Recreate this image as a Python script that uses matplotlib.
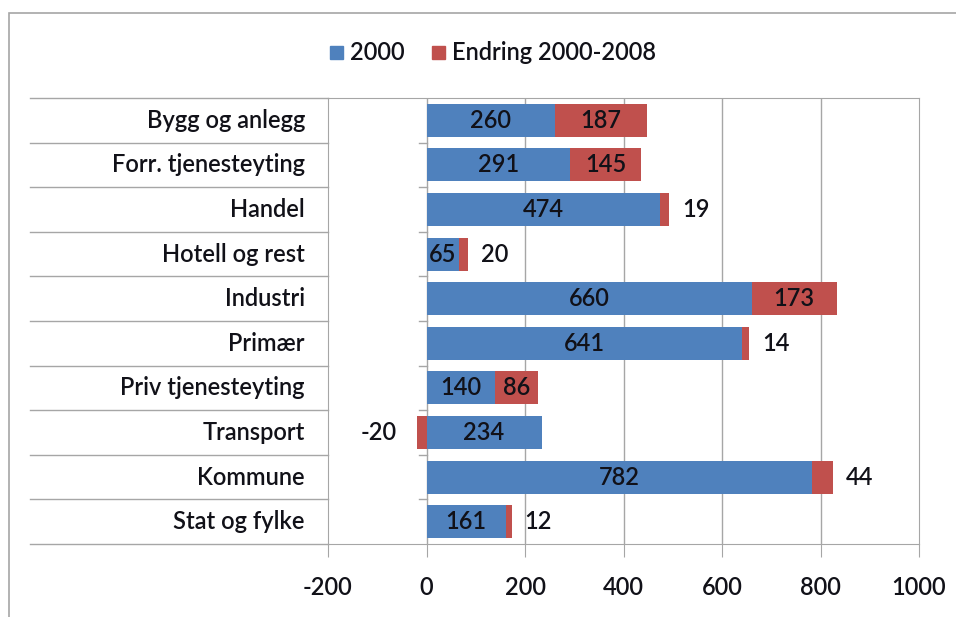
import matplotlib.pyplot as plt
import matplotlib.transforms as mtransforms
from matplotlib.patches import Rectangle
import numpy as np

# data
kategorier = ['Bygg og anlegg', 'Forr. tjenesteyting', 'Handel', 'Hotell og rest',
              'Industri', 'Primær', 'Priv tjenesteyting', 'Transport',
              'Kommune', 'Stat og fylke']
aar_2000 = [260, 291, 474, 65, 660, 641, 140, 234, 782, 161]
endring = [187, 145, 19, 20, 173, 14, 86, -20, 44, 12]

blaa = '#4F81BD'
roed = '#C0504D'
grid_farge = '#A6A6A6'
tekst = '#111118'
fs = 17

plt.rcParams['font.family'] = ['Lato', 'DejaVu Sans']
plt.rcParams['font.weight'] = 'semibold'

fig = plt.figure(figsize=(9.56, 6.17), dpi=100)
ax = fig.add_axes([328 / 956, 1 - 544 / 617, 591 / 956, 446 / 617])

y = np.arange(len(kategorier))
h = 0.74
ax.barh(y, aar_2000, height=h, color=blaa, zorder=3)
# negative endring starter fra 0, positive fra enden av 2000-baren
start = [a if e >= 0 else 0 for a, e in zip(aar_2000, endring)]
ax.barh(y, endring, left=start, height=h, color=roed, zorder=3)

ax.set_xlim(-200, 1000)
ax.set_ylim(len(kategorier) - 0.5, -0.5)

# etiketter
for i, (a, e) in enumerate(zip(aar_2000, endring)):
    ax.text(a / 2, i, str(a), ha='center', va='center', fontsize=fs, color=tekst, zorder=4)
    if abs(e) >= 60:
        ax.text(a + e / 2, i, str(e), ha='center', va='center', fontsize=fs, color=tekst, zorder=4)
    elif e >= 0:
        ax.text(a + e + 26, i, str(e), ha='left', va='center', fontsize=fs, color=tekst, zorder=4)
    else:
        ax.text(e - 40, i, str(e), ha='right', va='center', fontsize=fs, color=tekst, zorder=4)

# rutenett og ramme
ax.set_xticks(np.arange(-200, 1001, 200))
ax.set_xticklabels([str(v) for v in range(-200, 1001, 200)], fontsize=fs)
for v in range(200, 1000, 200):
    ax.axvline(v, color=grid_farge, lw=1, zorder=1)
ax.axvline(0, color=grid_farge, lw=1, zorder=1)
for s in ax.spines.values():
    s.set_color(grid_farge)
ax.tick_params(axis='x', length=9, color=grid_farge, pad=14, labelcolor=tekst)
ax.set_yticks([])

# kategori-tabell til venstre
trans = mtransforms.blended_transform_factory(ax.transAxes, ax.transData)
for k in np.arange(-0.5, len(kategorier), 1.0):
    ax.plot([-0.504, 0], [k, k], transform=trans, color=grid_farge, lw=1, clip_on=False)
    if -0.5 < k < len(kategorier) - 0.5:
        ax.plot([-15, 0], [k, k], color=grid_farge, lw=1, clip_on=False, zorder=2)
for i, navn in enumerate(kategorier):
    ax.text(-0.039, i, navn, transform=trans, ha='right', va='center', fontsize=fs, color=tekst)

# forklaring
fig.patches.append(Rectangle((330 / 956, 1 - 59 / 617), 13 / 956, 13 / 617,
                             transform=fig.transFigure, color=blaa))
fig.text(350 / 956, 1 - 52 / 617, '2000', fontsize=fs, va='center', color=tekst)
fig.patches.append(Rectangle((432 / 956, 1 - 59 / 617), 13 / 956, 13 / 617,
                             transform=fig.transFigure, color=roed))
fig.text(452 / 956, 1 - 52 / 617, 'Endring 2000-2008', fontsize=fs, va='center', color=tekst)

# ytre ramme
fig.patches.append(Rectangle((9 / 956, -0.05), 1.2, 1 - 13 / 617 + 0.05,
                             transform=fig.transFigure, fill=False, edgecolor=grid_farge, lw=1.2))

fig.savefig('out.png', dpi=100)
